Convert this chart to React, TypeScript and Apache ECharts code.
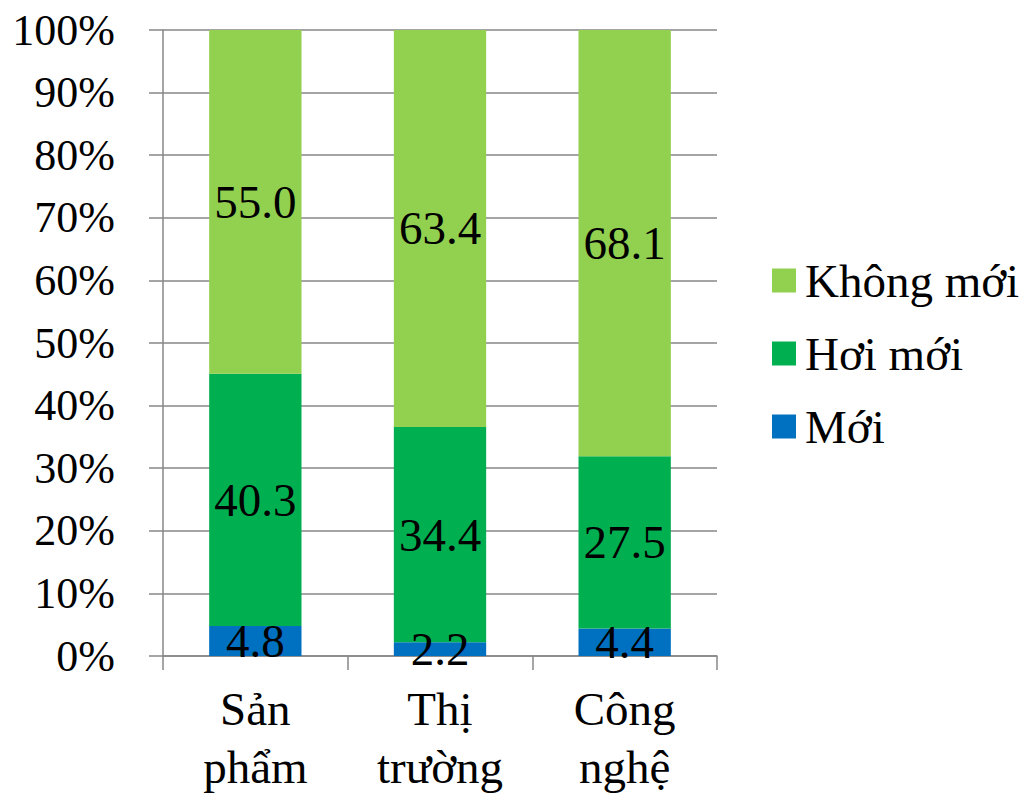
import React, { useEffect, useRef } from "react";
import * as echarts from "echarts";

const categories = ["Sản\nphẩm", "Thị\ntrường", "Công\nnghệ"];
const moi = [4.8, 2.2, 4.4];
const hoiMoi = [40.3, 34.4, 27.5];
const khongMoi = [55.0, 63.4, 68.1];
const seriesNames = ["Mới", "Hơi mới", "Không mới"];
const colors = ["#0070C0", "#00B050", "#92D050"];

const FONT = "'Liberation Serif', 'Times New Roman', serif";

export default function App() {
  const ref = useRef<HTMLDivElement>(null);
  useEffect(() => {
    if (!ref.current) return;
    const chart = echarts.init(ref.current, null, { renderer: "svg" });
    const datasets = [moi, hoiMoi, khongMoi];
    chart.setOption({
      animation: false,
      backgroundColor: "#ffffff",
      textStyle: { fontFamily: FONT },
      grid: { left: 163, right: 309, top: 30, bottom: 140, containLabel: false },
      legend: {
        orient: "vertical",
        left: 772,
        top: 257,
        padding: 0,
        itemWidth: 24,
        itemHeight: 24,
        itemGap: 26,
        icon: "rect",
        data: ["Không mới", "Hơi mới", "Mới"],
        textStyle: { fontFamily: FONT, fontSize: 47, color: "#000", padding: [0, 0, 0, 4] },
      },
      xAxis: {
        type: "category",
        data: categories,
        axisLine: { lineStyle: { color: "#878787", width: 1.5 } },
        axisTick: { show: true, length: 14, lineStyle: { color: "#878787", width: 1.5 } },
        axisLabel: {
          fontFamily: FONT,
          fontSize: 47,
          color: "#000",
          margin: 24,
          lineHeight: 58,
          interval: 0,
        },
      },
      yAxis: {
        type: "value",
        min: 0,
        max: 100,
        interval: 10,
        axisLine: { show: true, lineStyle: { color: "#878787", width: 1.5 } },
        axisTick: { show: true, length: 14, lineStyle: { color: "#878787", width: 1.5 } },
        splitLine: { lineStyle: { color: "#878787", width: 1.5 } },
        axisLabel: {
          fontFamily: FONT,
          fontSize: 44,
          color: "#000",
          margin: 48,
          formatter: "{value}%",
        },
      },
      series: datasets.map((d, i) => ({
        name: seriesNames[i],
        type: "bar",
        stack: "total",
        barWidth: "50%",
        data: d,
        itemStyle: { color: colors[i] },
        label: {
          show: true,
          position: "inside",
          fontFamily: FONT,
          fontSize: 47,
          color: "#000",
          formatter: (p: any) => Number(p.value).toFixed(1),
        },
      })),
    });
    return () => chart.dispose();
  }, []);
  return <div ref={ref} style={{ width: 1026, height: 796, position: "absolute", left: 0, top: 0 }} />;
}
